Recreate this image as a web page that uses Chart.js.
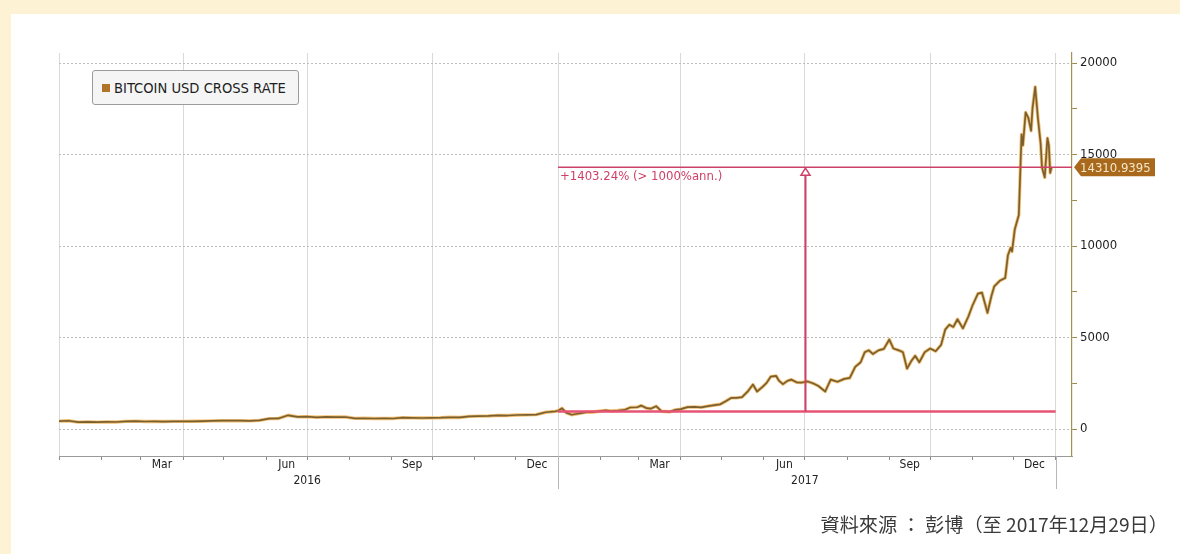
<!DOCTYPE html>
<html>
<head>
<meta charset="utf-8">
<title>Bitcoin USD Cross Rate</title>
<script src="https://cdn.jsdelivr.net/npm/chart.js@4.4.1/dist/chart.umd.min.js"></script>
<style>
  html, body { margin: 0; padding: 0; }
  body {
    width: 1180px; height: 554px; overflow: hidden; position: relative;
    background: #fdf2d3;
    font-family: 'DejaVu Sans Condensed', 'DejaVu Sans', sans-serif;
  }
  .panel { position: absolute; left: 11px; top: 14px; width: 1169px; height: 540px; background: #fff; }
  .chart-wrap { position: absolute; left: 0; top: 0; width: 1180px; height: 554px; }
  .legend {
    position: absolute; left: 92px; top: 70px; width: 207px; height: 35px;
    box-sizing: border-box; border: 1px solid #9c9c9c; border-radius: 3px;
    background: #f5f5f5; color: #1e1e1e; font-size: 14.6px;
    display: flex; align-items: center; padding-left: 9px;
  }
  .legend i { display: inline-block; width: 8px; height: 8px; background: #b0742a; margin-right: 4px; }
  .source {
    position: absolute; right: 12px; top: 514px; line-height: 20px;
    font-family: 'Noto Sans CJK TC', 'Noto Sans', sans-serif; font-size: 19.2px; color: #3a3a3a;
  }
</style>
</head>
<body>
<div class="panel"></div>
<div class="chart-wrap"><canvas id="btc"></canvas></div>
<div class="legend"><i></i>BITCOIN USD CROSS RATE</div>
<div class="source">資料來源 ： 彭博（至 2017年12月29日）</div>

<script>
// ── Series: BTC/USD close ──
const dates = [
  '2016-01-01', '2016-01-08', '2016-01-15', '2016-01-22', '2016-01-29', '2016-02-05', '2016-02-12',
  '2016-02-19', '2016-02-26', '2016-03-04', '2016-03-11', '2016-03-18', '2016-03-25', '2016-04-01',
  '2016-04-08', '2016-04-15', '2016-04-22', '2016-04-29', '2016-05-06', '2016-05-13', '2016-05-20',
  '2016-05-27', '2016-06-03', '2016-06-10', '2016-06-17', '2016-06-24', '2016-07-01', '2016-07-08',
  '2016-07-15', '2016-07-22', '2016-07-29', '2016-08-05', '2016-08-12', '2016-08-19', '2016-08-26',
  '2016-09-02', '2016-09-09', '2016-09-16', '2016-09-23', '2016-09-30', '2016-10-07', '2016-10-14',
  '2016-10-21', '2016-10-28', '2016-11-04', '2016-11-11', '2016-11-18', '2016-11-25', '2016-12-02',
  '2016-12-09', '2016-12-16', '2016-12-23', '2016-12-30',
  '2017-01-01', '2017-01-04', '2017-01-07', '2017-01-11', '2017-01-14', '2017-01-18', '2017-01-22',
  '2017-01-26', '2017-02-01', '2017-02-05', '2017-02-09', '2017-02-14', '2017-02-19', '2017-02-23',
  '2017-02-28', '2017-03-03', '2017-03-07', '2017-03-10', '2017-03-14', '2017-03-18', '2017-03-24',
  '2017-03-28', '2017-04-01', '2017-04-06', '2017-04-11', '2017-04-16', '2017-04-21', '2017-04-26',
  '2017-04-30', '2017-05-04', '2017-05-08', '2017-05-12', '2017-05-16', '2017-05-20', '2017-05-24',
  '2017-05-27', '2017-05-31', '2017-06-03', '2017-06-06', '2017-06-10', '2017-06-12', '2017-06-15',
  '2017-06-18', '2017-06-21', '2017-06-25', '2017-06-29', '2017-07-03', '2017-07-07', '2017-07-11',
  '2017-07-16', '2017-07-20', '2017-07-25', '2017-07-30', '2017-08-03', '2017-08-07', '2017-08-11',
  '2017-08-14', '2017-08-17', '2017-08-20', '2017-08-24', '2017-08-28', '2017-09-01', '2017-09-04',
  '2017-09-08', '2017-09-11', '2017-09-14', '2017-09-17', '2017-09-20', '2017-09-23', '2017-09-27',
  '2017-10-01', '2017-10-05', '2017-10-09', '2017-10-12', '2017-10-15', '2017-10-18', '2017-10-21',
  '2017-10-25', '2017-10-29', '2017-11-01', '2017-11-05', '2017-11-08', '2017-11-12', '2017-11-15',
  '2017-11-17', '2017-11-21', '2017-11-25', '2017-11-27', '2017-11-29', '2017-11-30', '2017-12-02',
  '2017-12-05', '2017-12-07', '2017-12-08', '2017-12-10', '2017-12-12', '2017-12-14', '2017-12-15',
  '2017-12-17', '2017-12-19', '2017-12-21', '2017-12-22', '2017-12-24', '2017-12-26', '2017-12-27',
  '2017-12-28', '2017-12-29'
]
const prices = [
  432, 452, 375, 390, 378, 386, 383,
  420, 430, 410, 415, 408, 416, 417,
  421, 428, 446, 453, 460, 455, 442,
  470, 568, 578, 750, 665, 675, 640,
  665, 655, 655, 580, 588, 575, 578,
  575, 622, 608, 602, 609, 617, 640,
  632, 688, 704, 714, 748, 737, 765,
  770, 785, 915, 962,
  998, 1130, 895, 780, 820, 870, 925,
  915, 985, 1020, 985, 1010, 1050, 1175,
  1190, 1280, 1140, 1110, 1245, 970, 940,
  1045, 1085, 1195, 1210, 1180, 1250, 1310,
  1350, 1520, 1700, 1700, 1740, 2040, 2430,
  2050, 2300, 2520, 2860, 2900, 2650, 2450,
  2620, 2700, 2550, 2540, 2600, 2500, 2350,
  2050, 2700, 2580, 2740, 2790, 3400, 3650,
  4200, 4300, 4100, 4300, 4380, 4890, 4400,
  4300, 4200, 3300, 3700, 4000, 3650, 4200,
  4400, 4250, 4600, 5430, 5700, 5580, 6000,
  5500, 6150, 6750, 7400, 7450, 6350, 7300,
  7800, 8100, 8250, 9500, 9900, 9700, 10900,
  11700, 16100, 15500, 17300, 17000, 16300, 17500,
  18700, 17000, 15600, 14300, 13750, 15900, 15500,
  14000, 14310.9395
]

// ── Axis labels ──
const labelMonths = ['2016-03', '2016-06', '2016-09', '2016-12', '2017-03', '2017-06', '2017-09', '2017-12']
const monthNames = ['Mar', 'Jun', 'Sep', 'Dec', 'Mar', 'Jun', 'Sep', 'Dec']
const yearLabels = ['2016', '2017']
const yTicks = [0, 5000, 10000, 15000, 20000]

// ── Growth annotation ──
const growthFrom = '2017-01-01'
const growthArrowAt = '2017-07-01'
const growthBase = 952.007

const X0 = Date.UTC(2016, 0, 1)
const dayOf = s => (Date.parse(s) - X0) / 86400000
const X_MAX = 743

const monthStarts = []
for (let y = 2016; y <= 2018; y++) {
  for (let m = 0; m < 12; m++) {
    const d = (Date.UTC(y, m, 1) - X0) / 86400000
    if (d <= X_MAX) monthStarts.push({ day: d, quarter: m % 3 === 0 })
  }
}
const monthMid = s => {
  const [y, m] = s.split('-').map(Number)
  return ((Date.UTC(y, m - 1, 1) + Date.UTC(y, m, 1)) / 2 - X0) / 86400000
}
const yearMid = s => (Date.UTC(+s, 6, 1) - X0) / 86400000

const points = dates.map((d, i) => ({ x: dayOf(d), y: prices[i] }))
const lastPrice = prices[prices.length - 1]

const tickFont = { family: "'DejaVu Sans Condensed', 'DejaVu Sans', sans-serif", size: 12 }
const PINK = '#cf4068'

// year split marks under the month labels
const yearSplit = {
  id: 'yearSplit',
  afterDraw (chart) {
    const { ctx, chartArea, scales: { x } } = chart
    ctx.save()
    ctx.strokeStyle = '#b8b8b8'
    ctx.lineWidth = 1
    ;[dayOf('2017-01-01'), dayOf('2018-01-01')].forEach(d => {
      const px = Math.round(x.getPixelForValue(d)) + 0.5
      ctx.beginPath()
      ctx.moveTo(px, chartArea.bottom)
      ctx.lineTo(px, chartArea.bottom + 33)
      ctx.stroke()
    })
    ctx.restore()
  }
}

// +% growth lines and arrow
const growth = {
  id: 'growth',
  afterDatasetsDraw (chart) {
    const { ctx, chartArea, scales: { x, y } } = chart
    const xs = x.getPixelForValue(dayOf(growthFrom))
    const xe = x.getPixelForValue(X_MAX - 12)
    const xa = Math.round(x.getPixelForValue(dayOf(growthArrowAt))) + 0.5
    const yb = y.getPixelForValue(growthBase)
    const yl = y.getPixelForValue(lastPrice)
    ctx.save()
    ctx.strokeStyle = '#e65374'
    ctx.lineWidth = 2.5
    ctx.beginPath(); ctx.moveTo(xs, yb); ctx.lineTo(xe, yb); ctx.stroke()
    ctx.strokeStyle = PINK
    ctx.lineWidth = 1.5
    ctx.beginPath(); ctx.moveTo(xs, yl); ctx.lineTo(chartArea.right, yl); ctx.stroke()
    ctx.lineWidth = 2
    ctx.beginPath(); ctx.moveTo(xa, yb); ctx.lineTo(xa, yl + 8); ctx.stroke()
    // open arrow head
    ctx.lineWidth = 1.5
    ctx.fillStyle = '#fff'
    ctx.beginPath()
    ctx.moveTo(xa, yl + 1)
    ctx.lineTo(xa + 4.5, yl + 8)
    ctx.lineTo(xa - 4.5, yl + 8)
    ctx.closePath()
    ctx.fill(); ctx.stroke()
    const pct = ((lastPrice / growthBase - 1) * 100).toFixed(2)
    ctx.fillStyle = PINK
    ctx.font = "13px 'DejaVu Sans Condensed', 'DejaVu Sans', sans-serif"
    ctx.textBaseline = 'top'
    ctx.fillText('+' + pct + '% (> 1000%ann.)', xs + 2, yl + 3)
    ctx.restore()
  }
}

// last value tag on the price axis
const lastTag = {
  id: 'lastTag',
  afterDraw (chart) {
    const { ctx, chartArea, scales: { y } } = chart
    const yl = y.getPixelForValue(lastPrice)
    const x0 = chartArea.right + 2
    ctx.save()
    ctx.fillStyle = '#a8691d'
    ctx.beginPath()
    ctx.moveTo(x0, yl)
    ctx.lineTo(x0 + 7, yl - 9)
    ctx.lineTo(x0 + 81, yl - 9)
    ctx.lineTo(x0 + 81, yl + 9)
    ctx.lineTo(x0 + 7, yl + 9)
    ctx.closePath()
    ctx.fill()
    ctx.fillStyle = '#f6e7c8'
    ctx.font = "13px 'DejaVu Sans Condensed', 'DejaVu Sans', sans-serif"
    ctx.textBaseline = 'middle'
    ctx.fillText(lastPrice.toFixed(4), x0 + 6, yl + 1)
    ctx.restore()
  }
}

new Chart(document.getElementById('btc'), {
  type: 'line',
  data: {
    datasets: [
      { data: points, borderColor: '#7a6030', borderWidth: 1.7, borderJoinStyle: 'round', pointRadius: 0, tension: 0 },
      { data: points, borderColor: '#f2bf72', borderWidth: 3.4, borderJoinStyle: 'round', pointRadius: 0, tension: 0 }
    ]
  },
  options: {
    responsive: true, maintainAspectRatio: false, animation: false,
    layout: { padding: { left: 59, top: 53, right: 0, bottom: 64 } },
    plugins: { legend: { display: false }, tooltip: { enabled: false } },
    scales: {
      x: {
        type: 'linear', position: 'bottom', min: 0, max: X_MAX,
        afterBuildTicks: s => { s.ticks = monthStarts.map(m => ({ value: m.day })) },
        afterFit: s => { s.height = 0 },
        ticks: { display: false, autoSkip: false },
        grid: {
          color: c => (monthStarts[c.index] && monthStarts[c.index].quarter) ? '#d9d9d9' : 'rgba(0,0,0,0)',
          tickColor: '#8a8a8a', tickLength: 4, lineWidth: 1
        },
        border: { color: '#9a9a9a', width: 1 }
      },
      xMonth: {
        type: 'linear', position: 'bottom', min: 0, max: X_MAX,
        afterBuildTicks: s => { s.ticks = labelMonths.map(m => ({ value: monthMid(m) })) },
        afterFit: s => { s.height = 17 },
        ticks: { autoSkip: false, maxRotation: 0, padding: 2, color: '#222', font: tickFont, callback: (v, i) => monthNames[i] },
        grid: { display: false, drawTicks: false },
        border: { display: false }
      },
      xYear: {
        type: 'linear', position: 'bottom', min: 0, max: X_MAX,
        afterBuildTicks: s => { s.ticks = yearLabels.map(yr => ({ value: yearMid(yr) })) },
        afterFit: s => { s.height = 17 },
        ticks: { autoSkip: false, maxRotation: 0, padding: 1, color: '#222', font: tickFont, callback: (v, i) => yearLabels[i] },
        grid: { display: false, drawTicks: false },
        border: { display: false }
      },
      y: {
        position: 'right', min: -1475, max: 20550,
        afterBuildTicks: s => {
          const t = []
          yTicks.forEach((v, i) => { t.push({ value: v }); if (i < yTicks.length - 1) t.push({ value: v + 2500 }) })
          s.ticks = t
        },
        afterFit: s => { s.width = 108 },
        ticks: {
          autoSkip: false, padding: 3, color: '#1e1e1e',
          font: { family: tickFont.family, size: 13 },
          callback: v => yTicks.includes(v) ? String(v) : ''
        },
        grid: {
          color: c => yTicks.includes(c.tick && c.tick.value) ? '#bdbdbd' : 'rgba(0,0,0,0)',
          tickColor: '#9c8a4a', tickLength: 5, lineWidth: 1
        },
        border: { color: '#a39150', width: 1.2, dash: [2, 2] }
      }
    }
  },
  plugins: [growth, yearSplit, lastTag]
})
</script>
</body>
</html>
